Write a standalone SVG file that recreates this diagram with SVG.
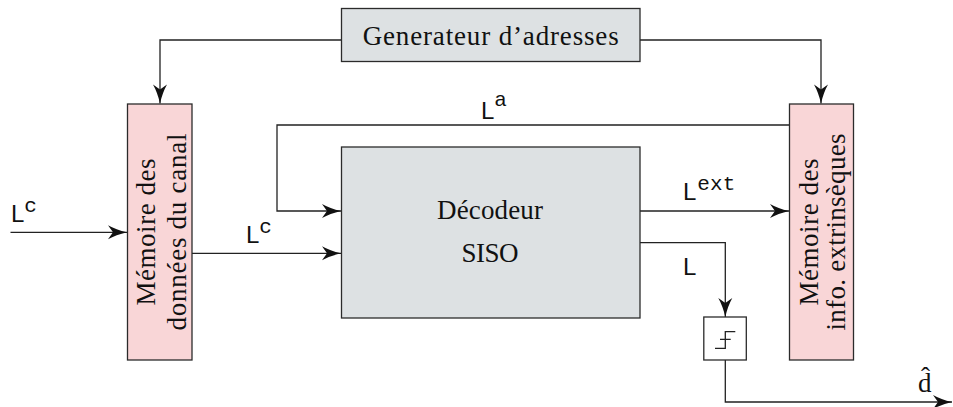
<svg xmlns="http://www.w3.org/2000/svg" width="953" height="407" viewBox="0 0 953 407">
<style>
.box{stroke:#2b2b2b;stroke-width:1.3}
.mem{fill:#f9d6d7}
.proc{fill:#dde1e3}
.wire{fill:none;stroke:#222;stroke-width:1.3}
.serif{font-family:"Liberation Serif","DejaVu Serif",serif;font-size:27px;fill:#111}
.sans{font-family:"Liberation Sans","DejaVu Sans",sans-serif;font-size:24px;fill:#111}
.mono{font-family:"Liberation Mono","DejaVu Sans Mono",monospace;font-size:21px;fill:#111}
</style>
<defs>
<marker id="ah" markerUnits="userSpaceOnUse" markerWidth="20" markerHeight="15" refX="19" refY="7.5" orient="auto" overflow="visible">
<path d="M0,0.5 Q8,5 19,7.5 Q8,10 0,14.5 L5,7.5 Z" fill="#111"/>
</marker>
</defs>
<rect width="953" height="407" fill="#fff"/>

<g id="connectors">
<path class="wire" d="M341,40 H160 V103.5" marker-end="url(#ah)"/>
<path class="wire" d="M640,40 H821 V103.5" marker-end="url(#ah)"/>
<path class="wire" d="M10.5,232.3 H127" marker-end="url(#ah)"/>
<path class="wire" d="M192,253.3 H341" marker-end="url(#ah)"/>
<path class="wire" d="M789,125 H277 V211 H341" marker-end="url(#ah)"/>
<path class="wire" d="M640,211 H789" marker-end="url(#ah)"/>
<path class="wire" d="M640,242.7 H725.3 V317" marker-end="url(#ah)"/>
<path class="wire" d="M725.3,360 V402 H952" marker-end="url(#ah)"/>
<text class="sans" x="11" y="222">L<tspan class="mono" dx="0" dy="-10">c</tspan></text>
<text class="sans" x="246" y="243">L<tspan class="mono" dx="0" dy="-10">c</tspan></text>
<text class="sans" x="481" y="119">L<tspan class="mono" dx="0" dy="-13">a</tspan></text>
<text class="sans" x="683" y="200">L<tspan class="mono" dx="1" dy="-10" textLength="38">ext</tspan></text>
<text class="sans" x="683" y="275">L</text>
<text class="serif" x="918" y="392">d&#x302;</text>
</g>

<g id="generateur">
<rect class="box proc" x="341.5" y="8.5" width="298.5" height="53"/>
<text class="serif" x="490.7" y="45" text-anchor="middle" textLength="256">Generateur d’adresses</text>
</g>

<g id="memoire-canal">
<rect class="box mem" x="127.5" y="104" width="64.5" height="256"/>
<text class="serif" transform="translate(155,232) rotate(-90)" text-anchor="middle" textLength="147">Mémoire des</text>
<text class="serif" transform="translate(186,232) rotate(-90)" text-anchor="middle" textLength="197">données du canal</text>
</g>

<g id="decodeur">
<rect class="box proc" x="341.5" y="147" width="298.5" height="171"/>
<text class="serif" x="490" y="219" text-anchor="middle" textLength="106">Décodeur</text>
<text class="serif" x="490" y="262" text-anchor="middle" textLength="57">SISO</text>
</g>

<g id="memoire-extrinseques">
<rect class="box mem" x="789.5" y="104" width="64" height="256"/>
<text class="serif" transform="translate(818,232) rotate(-90)" text-anchor="middle" textLength="147">Mémoire des</text>
<text class="serif" transform="translate(845,232) rotate(-90)" text-anchor="middle" textLength="197">info. extrinsèques</text>
</g>

<g id="decision">
<rect class="box" x="703.8" y="317" width="42.5" height="43" fill="#fff"/>
<path class="wire" d="M715,348.3 H725.3 V331.7 H735.3 M720,339.3 H730.7" stroke-width="1.2"/>
</g>
</svg>
